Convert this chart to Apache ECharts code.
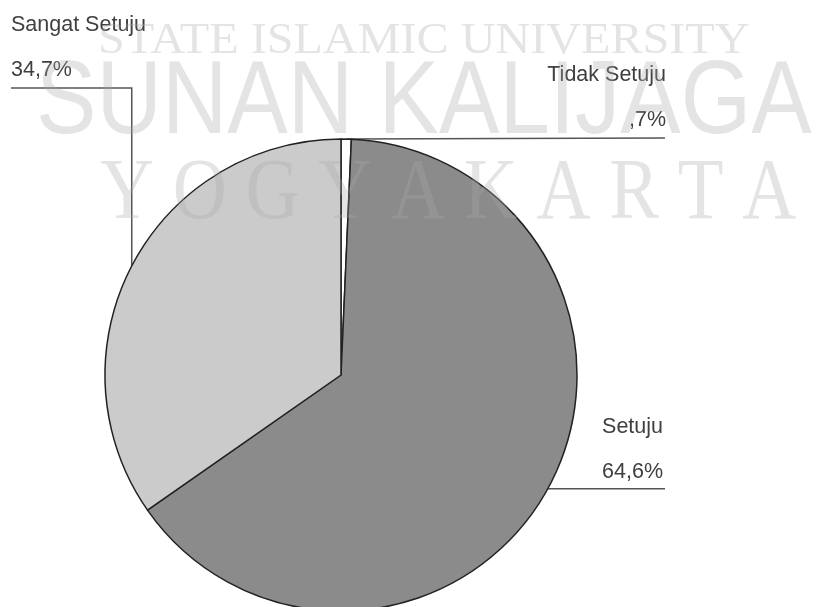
<!DOCTYPE html>
<html>
<head>
<meta charset="utf-8">
<script src="https://cdn.jsdelivr.net/npm/echarts@6/dist/echarts.min.js"></script>
<style>
  html, body { margin: 0; padding: 0; background: #ffffff; }
  #chart { width: 817px; height: 607px; }
</style>
</head>
<body>
<div id="chart"></div>
<script>
// Survey answer shares (percent), drawn clockwise from 12 o'clock
const categories = ['Tidak Setuju', 'Setuju', 'Sangat Setuju'];
const percentages = [0.7, 64.6, 34.7];
const sliceColors = ['#ffffff', '#8b8b8b', '#cbcbcb'];

// Background stamp text
const stampTop = 'STATE ISLAMIC UNIVERSITY';
const stampMiddle = 'SUNAN KALIJAGA';
const stampBottom = 'Y O G Y A K A R T A';

const pieCenter = [341, 375];
const pieRadius = 236;

// SPSS-style percent: decimal comma, leading zero dropped
function formatPercent(v) {
  let s = String(v).replace('.', ',');
  if (s.indexOf('0,') === 0) s = s.slice(1);
  return s + '%';
}

// Point on the rim at the middle of slice i
function rimMidPoint(i) {
  const total = percentages.reduce((a, b) => a + b, 0);
  let before = 0;
  for (let k = 0; k < i; k++) before += percentages[k];
  const a = (before + percentages[i] / 2) / total * Math.PI * 2;
  return [pieCenter[0] + pieRadius * Math.sin(a), pieCenter[1] - pieRadius * Math.cos(a)];
}

// Label placement per slice: text anchor and leader-line route
const labelPlacement = [
  { x: 666, y: 98, align: 'right', route: p => [p, [665, p[1] - 1]] },
  { x: 663, y: 450, align: 'right', route: p => [p, [665, p[1]]] },
  { x: 11, y: 48, align: 'left', route: p => [p, [p[0], 88], [11, 88]] }
];

const chart = echarts.init(document.getElementById('chart'), null, { renderer: 'canvas' });

const stampStyle = {
  fill: '#a9a9a9',
  opacity: 0.31
};

const labelFont = { fontFamily: 'Liberation Sans, Arial, sans-serif', fontSize: 21.5, color: '#404040', lineHeight: 45 };

chart.setOption({
  animation: false,
  backgroundColor: '#ffffff',
  series: [{
    type: 'pie',
    center: pieCenter,
    radius: pieRadius,
    startAngle: 90,
    clockwise: true,
    avoidLabelOverlap: false,
    data: categories.map((name, i) => ({
      name: name,
      value: percentages[i],
      itemStyle: { color: sliceColors[i] }
    })),
    itemStyle: { borderColor: '#222222', borderWidth: 1.5 },
    emphasis: { disabled: true },
    label: {
      show: true,
      position: 'outer',
      alignTo: 'none',
      formatter: p => '{n|' + p.name + '}\n{v|' + formatPercent(p.value) + '}',
      rich: { n: labelFont, v: labelFont }
    },
    labelLine: {
      show: true,
      lineStyle: { color: '#555555', width: 1.5 }
    },
    labelLayout: params => {
      const cfg = labelPlacement[params.dataIndex];
      return {
        x: cfg.x,
        y: cfg.y,
        align: cfg.align,
        verticalAlign: 'middle',
        labelLinePoints: cfg.route(rimMidPoint(params.dataIndex))
      };
    }
  }],
  graphic: [
    {
      type: 'text', z: 100, silent: true,
      x: 98, y: 19, scaleX: 1.07,
      style: Object.assign({ text: stampTop, font: '45px "Liberation Serif", "Times New Roman", serif' }, stampStyle)
    },
    {
      type: 'text', z: 100, silent: true,
      x: 36, y: 53, scaleX: 0.88,
      style: Object.assign({ text: stampMiddle, font: '103px "Liberation Sans", Arial, sans-serif' }, stampStyle)
    },
    {
      type: 'text', z: 100, silent: true,
      x: 100, y: 152, scaleX: 0.87,
      style: Object.assign({ text: stampBottom, font: '86px "Liberation Serif", "Times New Roman", serif' }, stampStyle)
    }
  ]
});
</script>
</body>
</html>
